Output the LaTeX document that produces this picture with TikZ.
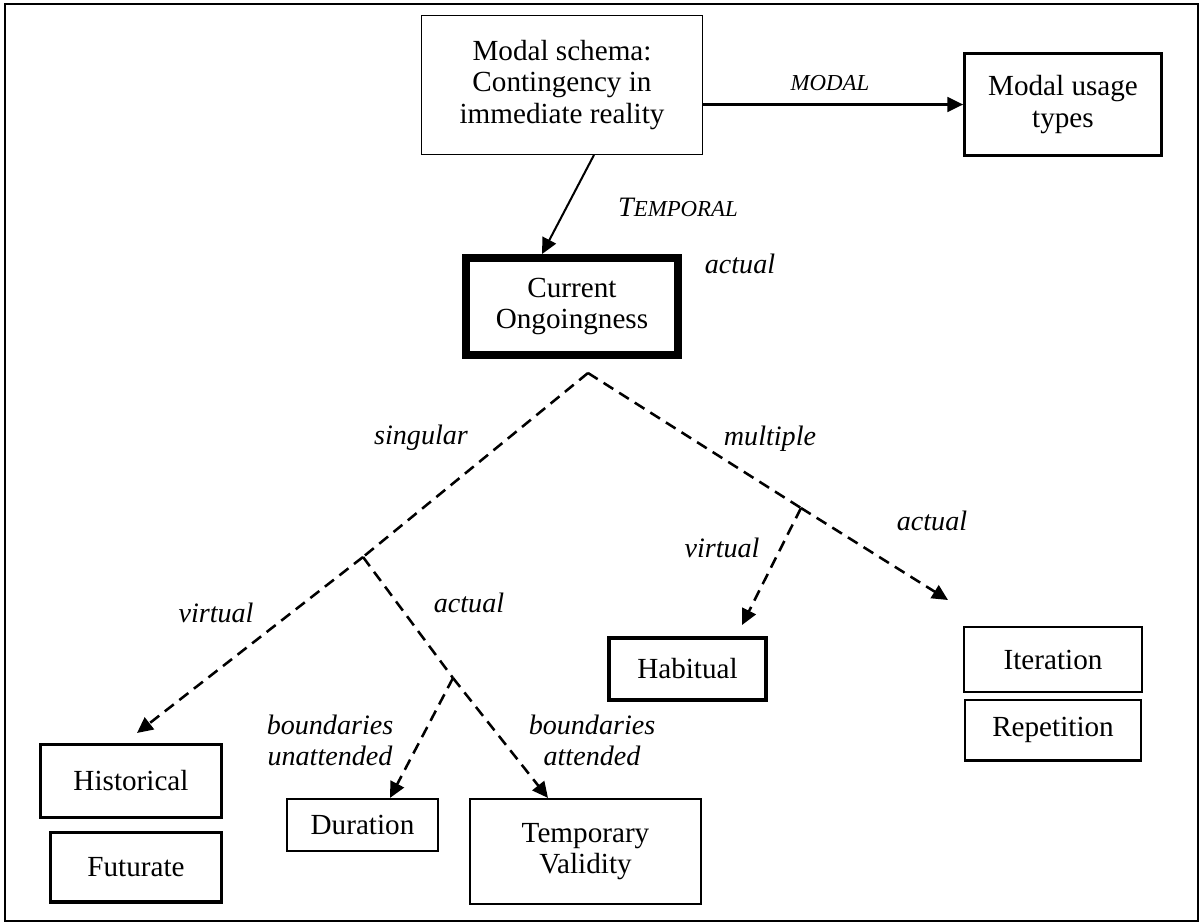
\documentclass[tikz,border=0pt]{standalone}
\usepackage{fontspec}
\setmainfont{Liberation Serif}
\usetikzlibrary{arrows.meta,positioning,calc}

\begin{document}
\begin{tikzpicture}[
    x=0.02cm, y=-0.02cm,
    box/.style={draw, line width=0.95pt, inner sep=0pt, align=center,
                font=\fontsize{16.6}{17.8}\selectfont},
    thinbox/.style={box, line width=0.8pt},
    midbox/.style={box, line width=1.3pt},
    thickbox/.style={box, line width=1.9pt},
    mainbox/.style={box, line width=4.5pt},
    lbl/.style={inner sep=0pt, align=center, font=\fontsize{16}{17.6}\selectfont\itshape},
    caps/.style={inner sep=0pt, font=\fontsize{13}{15}\selectfont\itshape},
    arrow/.style={line width=1.15pt, -{Triangle[length=9pt,width=8.5pt]}},
    branch/.style={line width=1.45pt, dash pattern=on 6.5pt off 4pt},
    dasharrow/.style={branch, -{Triangle[length=9pt,width=8.5pt]}},
    frame/.style={line width=1.1pt}
]

\useasboundingbox (0,0) rectangle (1201,923);
\draw[frame] (5,4) rectangle (1198,921);

% Top boxes
\node[thinbox, minimum width=5.61cm, minimum height=2.77cm] (schema) at (562,85)
    {Modal schema:\\Contingency in\\immediate reality};
\node[thickbox, minimum width=3.93cm, minimum height=2.03cm] (usage) at (1063,104.5)
    {Modal usage\\types};
\node[mainbox, minimum width=4.24cm, minimum height=1.94cm] (current) at (572,306.5)
    {Current\\Ongoingness};

% Bottom boxes
\node[thickbox, minimum width=3.61cm, minimum height=1.45cm] (historical) at (131,781) {Historical};
\node[thickbox, minimum width=3.41cm, minimum height=1.39cm,
      below left=0.24cm and 0cm of historical.south east] (futurate) {Futurate};
\node[box, minimum width=3.03cm, minimum height=1.05cm] (duration) at (362.5,825) {Duration};
\node[box, minimum width=4.63cm, minimum height=2.11cm] (validity) at (585.5,851.5)
    {Temporary\\Validity};
\node[thickbox, line width=2.1pt, minimum width=3.15cm, minimum height=1.25cm] (habitual) at (687.5,669) {Habitual};
\node[midbox, minimum width=3.55cm, minimum height=1.29cm] (iteration) at (1053,659.5) {Iteration};
\node[midbox, minimum width=3.53cm, minimum height=1.21cm,
      below=0.12cm of iteration] (repetition) {Repetition};

% Solid arrows
\draw[arrow] (schema.east |- usage.west) -- (usage.west);
\draw[arrow] ($(schema.south)+(32,0)$) -- ($(current.north)+(-30,0)$);

\node[caps] (modal-lbl) at (830,83) {MODAL};
\node[caps] (temporal-lbl) at (678,207) {{\fontsize{16}{17.6}\selectfont T}EMPORAL};
\node[lbl] (actual-top) at (740,264) {actual};

% Branch points of the dashed tree
\coordinate (apex) at (588,373);
\coordinate (sbranch) at (363,557);
\coordinate (abranch) at (453,678);
\coordinate (mbranch) at (801,508);
\coordinate (histtip) at (137,733);
\coordinate (habtip) at (742,625);
\coordinate (itertip) at (948,600);

% Singular side
\draw[branch] (apex) -- (sbranch);
\draw[dasharrow] (sbranch) -- (histtip);
\draw[branch] (sbranch) -- (abranch);
\draw[dasharrow] (abranch) -- ($(duration.north)+(27.5,0)$);
\draw[dasharrow] (abranch) -- ($(validity.north)+(-37.5,0)$);

% Multiple side
\draw[branch] (apex) -- (mbranch);
\draw[dasharrow] (mbranch) -- (habtip);
\draw[dasharrow] (mbranch) -- (itertip);

% Branch labels
\node[lbl] (singular) at (421,438) {singular};
\node[lbl] (multiple) at (770,439) {multiple};
\node[lbl] (actual-mult) at (932,521) {actual};
\node[lbl] (virtual-mult) at (722,548) {virtual};
\node[lbl] (virtual-sing) at (216,613) {virtual};
\node[lbl] (actual-sing) at (469,603) {actual};
\node[lbl] (unattended) at (330,740) {boundaries\\unattended};
\node[lbl] (attended) at (592,740) {boundaries\\attended};

\end{tikzpicture}
\end{document}
